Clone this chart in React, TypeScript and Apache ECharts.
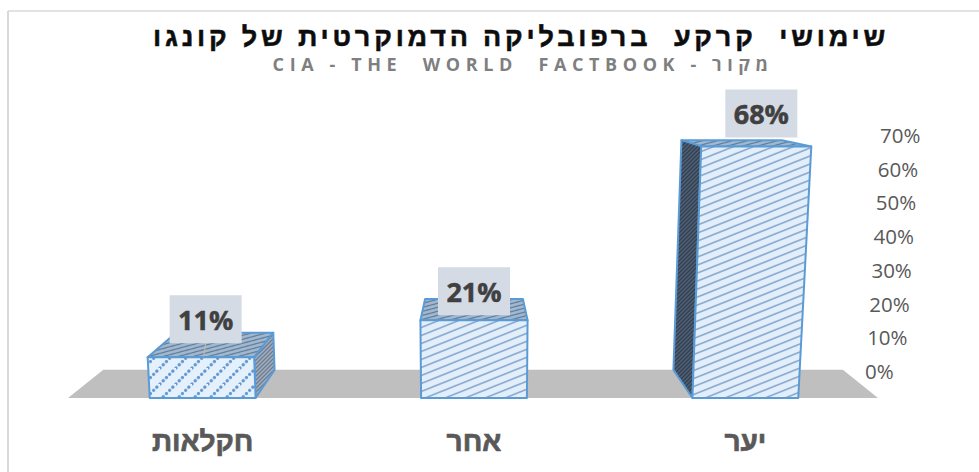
import React, { useEffect, useRef } from "react";
import * as echarts from "echarts";

const titleText = "שימושי  קרקע  ברפובליקה הדמוקרטית של קונגו";
const subtitleText = "CIA - THE  WORLD  FACTBOOK - מקור";
const categories = ["יער", "אחר", "חקלאות"];
const shareValues = [68, 21, 11];
const axisTicks = [0, 10, 20, 30, 40, 50, 60, 70];

const W = 979;
const H = 472;
const VANISH_X = 474;
const VANISH_Y = 74.6;
const DEPTH = 0.913;
const LEAN = 0.00016;
const BAR_FRACTION = 0.39;
const labelNudgeX = [16, 0, 3];
const labelNudgeY = [-33, -29, -38];
const TITLE_FILL = "#0d0d0e";
const SUB_FILL = "#7f7f80";

function hatch(bg: string, fg: string, w: number, h: number, lw: number, dash?: number[]) {
  const s = 3;
  const c = document.createElement("canvas");
  c.width = w * s;
  c.height = h * s;
  const g = c.getContext("2d") as CanvasRenderingContext2D;
  g.scale(s, s);
  g.fillStyle = bg;
  g.fillRect(0, 0, w, h);
  g.strokeStyle = fg;
  g.lineWidth = lw;
  if (dash) {
    g.setLineDash(dash);
    g.lineCap = "round";
  }
  for (const [dx, dy] of [[0, 0], [-w, 0], [w, 0], [0, -h], [0, h]]) {
    g.beginPath();
    g.moveTo(dx, h + dy);
    g.lineTo(w + dx, dy);
    g.stroke();
  }
  return { image: c, repeat: "repeat", imageWidth: w, imageHeight: h };
}

export default function App() {
  const ref = useRef<HTMLDivElement>(null);
  useEffect(() => {
    const chart = echarts.init(ref.current as HTMLDivElement, undefined, { renderer: "svg" });

    const frontWide = hatch("#e2effb", "#86a6cd", 20, 8, 1.6);
    const frontDots = hatch("#e4f0fb", "#5f96d0", 16, 16, 3.2, [0.1, 4.43]);
    const topWide = hatch("#a3b8ce", "#587a9b", 15, 4, 1.2);
    const sideDark = hatch("#4f6178", "#2f3a48", 4, 4, 1.2);
    const sideGrey = hatch("#a6b2c0", "#64788f", 4, 4, 1.3);

    const back = (p: number[]) => [
      VANISH_X + (p[0] - VANISH_X) * DEPTH,
      VANISH_Y + (p[1] - VANISH_Y) * DEPTH,
    ];

    const renderFloor = (params: any) => {
      const cs = params.coordSys;
      const bottom = cs.y + cs.height;
      const a = [cs.x + 1, bottom];
      const b = [cs.x + cs.width - 3, bottom];
      return {
        type: "polygon",
        shape: { points: [a, b, back(b), back(a)] },
        style: { fill: "#bfbfbf" },
      };
    };

    const renderBar = (_params: any, api: any) => {
      const idx = api.value(0);
      const value = api.value(1);
      const base = api.coord([idx, 0]);
      const top = api.coord([idx, value]);
      const half = (api.size([1, 0])[0] * BAR_FRACTION) / 2;
      const h = base[1] - top[1];
      const lean = (x: number) => x + (x - VANISH_X) * h * LEAN;
      const bl = [base[0] - half, base[1]];
      const br = [base[0] + half, base[1]];
      const tl = [lean(bl[0]), top[1]];
      const tr = [lean(br[0]), top[1]];
      const line = { stroke: "#5b9bd5", lineWidth: 2, lineJoin: "round" };
      const children: any[] = [];
      const isShort = h < 50;
      children.push({
        type: "polygon",
        shape: { points: [tl, tr, back(tr), back(tl)] },
        style: { fill: topWide, ...line },
      });
      if (bl[0] > VANISH_X + half) {
        children.push({
          type: "polygon",
          shape: { points: [tl, bl, back(bl), back(tl)] },
          style: { fill: sideDark, ...line },
        });
      } else if (br[0] < VANISH_X - half) {
        children.push({
          type: "polygon",
          shape: { points: [tr, br, back(br), back(tr)] },
          style: { fill: sideGrey, ...line },
        });
      }
      children.push({
        type: "polygon",
        shape: { points: [tl, tr, br, bl] },
        style: { fill: isShort ? frontDots : frontWide, ...line },
      });
      return { type: "group", children };
    };

    const renderTag = (_params: any, api: any) => {
      const idx = api.value(0);
      const value = api.value(1);
      const top = api.coord([idx, value]);
      const cx = top[0] + labelNudgeX[idx];
      const cy = top[1] + labelNudgeY[idx];
      const children: any[] = [];
      if (value < 15) {
        children.push({
          type: "line",
          shape: { x1: cx, y1: cy + 24, x2: cx - 2, y2: top[1] - 1 },
          style: { stroke: "#c9b9a3", lineWidth: 1 },
        });
      }
      children.push({
        type: "rect",
        shape: { x: cx - 36, y: cy - 24, width: 72, height: 48 },
        style: { fill: "#d5dbe5" },
      });
      children.push({
        type: "text",
        x: cx,
        y: cy,
        style: {
          text: value + "%",
          fill: "#404040",
          font: 'bold 27px "Open Sans"',
          align: "center",
          verticalAlign: "middle",
          stroke: "#404040",
          lineWidth: 0.5,
        },
      });
      return { type: "group", children };
    };

    const barData = categories.map((_, i) => [i, shareValues[i]]);

    chart.setOption({
      animation: false,
      backgroundColor: "#ffffff",
      title: [
        {
          text: titleText,
          left: 516,
          top: 32,
          textAlign: "center",
          textVerticalAlign: "middle",
          textStyle: {
            color: TITLE_FILL,
            fontFamily: "Liberation Sans",
            fontWeight: "bold",
            fontSize: 27,
            textBorderColor: TITLE_FILL,
            textBorderWidth: 0.5,
          },
        },
        {
          text: subtitleText,
          left: 518,
          top: 59,
          textAlign: "center",
          textVerticalAlign: "middle",
          textStyle: {
            color: SUB_FILL,
            fontFamily: "Open Sans, Liberation Sans",
            fontWeight: "bold",
            fontSize: 18,
          },
        },
      ],
      graphic: [
        { type: "line", shape: { x1: 8, y1: 11, x2: W, y2: 11 }, style: { stroke: "#d9d9d9", lineWidth: 1.5 } },
        { type: "line", shape: { x1: 8, y1: 11, x2: 8, y2: H }, style: { stroke: "#d9d9d9", lineWidth: 2 } },
      ],
      grid: [
        { left: 67, top: 139, width: 814, height: 259 },
        { left: 100, top: 135, width: 760, height: 236 },
      ],
      xAxis: [
        {
          type: "category",
          gridIndex: 0,
          data: categories,
          inverse: true,
          axisLine: { show: false },
          axisTick: { show: false },
          axisLabel: {
            margin: 29,
            color: "#595959",
            fontFamily: "Liberation Sans",
            fontWeight: "bold",
            fontSize: 28,
            textBorderColor: "#595959",
            textBorderWidth: 0.7,
          },
        },
        { type: "value", gridIndex: 1, show: false },
      ],
      yAxis: [
        { type: "value", gridIndex: 0, min: 0, max: 70, interval: 10, show: false },
        {
          type: "value",
          gridIndex: 1,
          position: "right",
          min: 0,
          max: 70,
          interval: 10,
          splitLine: { show: false },
          axisLine: { show: false },
          axisTick: { show: false },
          axisLabel: {
            margin: 5,
            formatter: (v: number) => `{t${v}|${v}%}`,
            rich: Object.fromEntries(
              axisTicks.map((t) => [
                `t${t}`,
                {
                  fontFamily: "Open Sans",
                  fontSize: 20.5,
                  color: "#595959",
                  padding: [0, 0, 0, t * 0.214],
                },
              ])
            ),
          },
        },
      ],
      series: [
        {
          type: "custom",
          xAxisIndex: 0,
          yAxisIndex: 0,
          z: 1,
          silent: true,
          data: [[0, 0]],
          renderItem: renderFloor,
        },
        {
          type: "custom",
          xAxisIndex: 0,
          yAxisIndex: 0,
          z: 2,
          data: barData,
          encode: { x: 0, y: 1 },
          renderItem: renderBar,
        },
        {
          type: "custom",
          xAxisIndex: 0,
          yAxisIndex: 0,
          z: 3,
          data: barData,
          encode: { x: 0, y: 1 },
          renderItem: renderTag,
        },
      ],
    });
    return () => chart.dispose();
  }, []);

  return (
    <>
      <style>{`
        html, body { margin: 0; background: #fff; }
        svg text[fill="${TITLE_FILL}"] { letter-spacing: 3.8px; }
        svg text[fill="${SUB_FILL}"] { letter-spacing: 5.6px; }
      `}</style>
      <div ref={ref} style={{ position: "fixed", left: 0, top: 0, width: W, height: H }} />
    </>
  );
}
